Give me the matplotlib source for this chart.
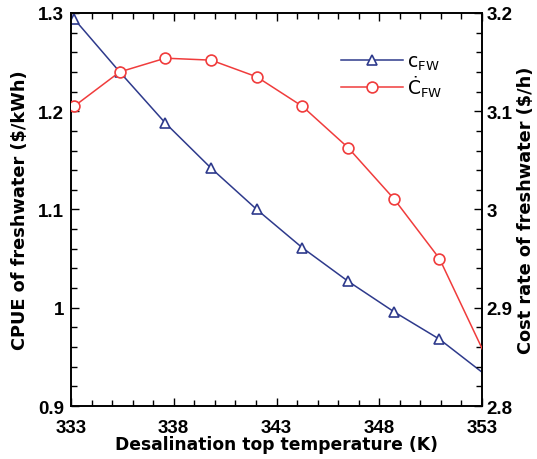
import matplotlib.pyplot as plt
from matplotlib.ticker import MultipleLocator
from matplotlib.font_manager import FontProperties

plt.rcParams['font.family'] = ['Liberation Sans', 'DejaVu Sans']
plt.rcParams['font.weight'] = 'bold'
plt.rcParams['mathtext.fontset'] = 'dejavusans'

# Data (desalination top temperature 60..80 C in 10 steps, in K)
temp = [333.15, 335.37, 337.59, 339.82, 342.04, 344.26, 346.48, 348.71, 350.93, 353.15]
cpue = [1.294, 1.240, 1.188, 1.142, 1.100, 1.061, 1.027, 0.996, 0.968, 0.932]
cost_rate = [3.105, 3.140, 3.154, 3.152, 3.135, 3.105, 3.063, 3.011, 2.950, 2.852]
xticks = [333, 338, 343, 348, 353]

blue = '#2E3A8C'
red = '#F03C3C'

fig = plt.figure(figsize=(5.37, 4.6), dpi=100)
ax1 = fig.add_axes([0.1322, 0.1152, 0.7654, 0.8544])
ax2 = ax1.twinx()

# last point lies just past the axis edge; its marker is not shown
l1, = ax1.plot(temp, cpue, color=blue, linewidth=1.1, marker='^', markersize=7.5,
               markerfacecolor='white', markeredgecolor=blue, markeredgewidth=1.2,
               markevery=slice(0, 9), label=r'$\mathregular{c_{FW}}$', zorder=2)
l2, = ax2.plot(temp, cost_rate, color=red, linewidth=1.1, marker='o', markersize=7.8,
               markerfacecolor='white', markeredgecolor=red, markeredgewidth=1.2,
               markevery=slice(0, 9), label=r'$\mathregular{Ċ_{FW}}$', zorder=3)

ax1.set_xlim(333, 353)
ax1.set_ylim(0.9, 1.3)
ax2.set_ylim(2.8, 3.2)

ax1.set_xticks(xticks)
ax1.xaxis.set_minor_locator(MultipleLocator(1))
ax1.yaxis.set_major_locator(MultipleLocator(0.1))
ax1.yaxis.set_minor_locator(MultipleLocator(0.02))
ax2.yaxis.set_major_locator(MultipleLocator(0.1))
ax2.yaxis.set_minor_locator(MultipleLocator(0.02))

ax1.yaxis.set_major_formatter(plt.FuncFormatter(lambda v, p: f'{v:g}'))
ax2.yaxis.set_major_formatter(plt.FuncFormatter(lambda v, p: f'{v:g}'))

for ax in (ax1, ax2):
    ax.tick_params(which='both', direction='in', width=1, labelsize=13.5)
    ax.tick_params(which='major', length=6)
    ax.tick_params(which='minor', length=4)
    for s in ax.spines.values():
        s.set_linewidth(1.2)
ax1.tick_params(axis='x', which='both', top=True, pad=9.5)
ax1.tick_params(axis='y', pad=5)
ax2.tick_params(axis='y', pad=3)

lab_font = FontProperties(family='DejaVu Sans', weight='bold', size=12.8)
ax1.set_xlabel('Desalination top temperature (K)', family='DejaVu Sans', fontsize=12.3,
               fontweight='bold', labelpad=-0.7)
ax1.set_ylabel('CPUE of freshwater ($/kWh)', fontproperties=lab_font, va='center')
ax2.set_ylabel('Cost rate of freshwater ($/h)', fontproperties=lab_font, va='center')
ax1.yaxis.set_label_coords(-0.124, 0.5)
ax2.yaxis.set_label_coords(1.107, 0.5)

fig.legend([l1, l2], [l1.get_label(), l2.get_label()], loc='center left',
           bbox_to_anchor=(341 / 537, 1 - 76 / 460), frameon=False,
           prop=FontProperties(family='DejaVu Sans', weight='normal', size=13.5),
           handlelength=3.3, handletextpad=0.2, labelspacing=0.1,
           borderpad=0, borderaxespad=0)

fig.savefig('out.png', dpi=100)
